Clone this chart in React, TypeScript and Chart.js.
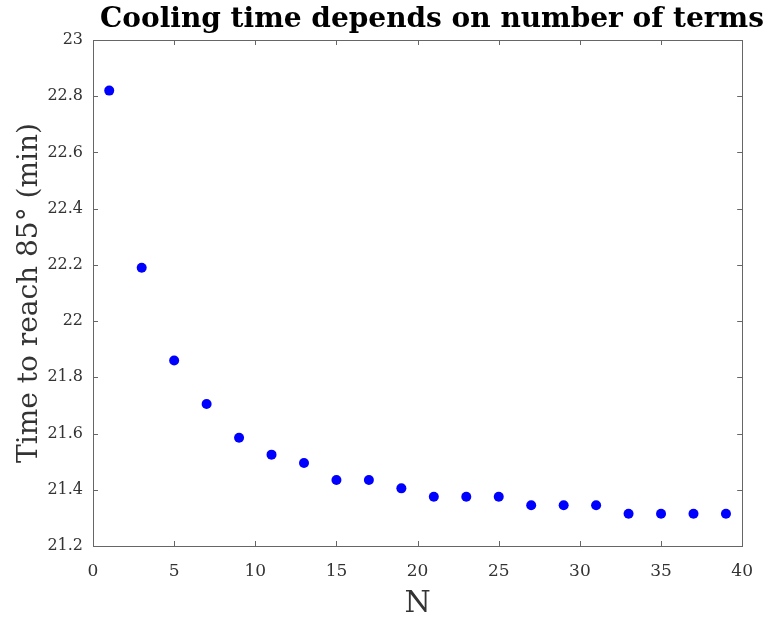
import React, { useEffect, useRef } from "react";
import { Chart, registerables } from "chart.js";

Chart.register(...registerables);

const nTerms = [1, 3, 5, 7, 9, 11, 13, 15, 17, 19, 21, 23, 25, 27, 29, 31, 33, 35, 37, 39];
const coolTime = [22.82, 22.19, 21.86, 21.705, 21.585, 21.525, 21.495, 21.435, 21.435, 21.405, 21.375, 21.375, 21.375, 21.345, 21.345, 21.345, 21.315, 21.315, 21.315, 21.315];
const chartTitle = "Cooling time depends on number of terms";
const xTitle = "N";
const yTitle = "Time to reach 85\u00B0 (min)";

const FONT = "'DejaVu Serif', serif";

const boxPlugin = {
  id: "boxTicks",
  afterDraw(chart: any) {
    const { ctx, chartArea: a, scales } = chart;
    ctx.save();
    ctx.strokeStyle = "#666";
    ctx.lineWidth = 1;
    ctx.strokeRect(Math.round(a.left) + 0.5, Math.round(a.top) + 0.5, Math.round(a.right - a.left), Math.round(a.bottom - a.top));
    const L = 5;
    ctx.beginPath();
    scales.x.ticks.forEach((t: any) => {
      const px = Math.round(scales.x.getPixelForValue(t.value)) + 0.5;
      ctx.moveTo(px, a.bottom);
      ctx.lineTo(px, a.bottom - L);
      ctx.moveTo(px, a.top);
      ctx.lineTo(px, a.top + L);
    });
    scales.y.ticks.forEach((t: any) => {
      const py = Math.round(scales.y.getPixelForValue(t.value)) + 0.5;
      ctx.moveTo(a.left, py);
      ctx.lineTo(a.left + L, py);
      ctx.moveTo(a.right, py);
      ctx.lineTo(a.right - L, py);
    });
    ctx.stroke();
    ctx.fillStyle = "#000";
    ctx.font = "bold 28px " + FONT;
    ctx.textAlign = "center";
    ctx.textBaseline = "alphabetic";
    ctx.fillText(chartTitle, 432, 27);
    ctx.restore();
  },
};

const fmt = (v: any) => String(Number(Number(v).toFixed(1)));

export default function App() {
  const ref = useRef<HTMLCanvasElement>(null);
  useEffect(() => {
    if (!ref.current) return;
    const chart = new Chart(ref.current, {
      type: "scatter",
      data: {
        datasets: [
          {
            data: nTerms.map((n, i) => ({ x: n, y: coolTime[i] })),
            backgroundColor: "#0000ff",
            borderColor: "#0000ff",
            pointRadius: 5,
            pointHoverRadius: 5,
            borderWidth: 0,
          },
        ],
      },
      options: {
        animation: false,
        responsive: false,
        layout: { padding: { top: 40, right: 23, left: 0, bottom: 0 } },
        plugins: { legend: { display: false }, tooltip: { enabled: false }, title: { display: false } },
        scales: {
          x: {
            type: "linear",
            min: 0,
            max: 40,
            afterFit: (s: any) => { s.height = 76; },
            grid: { display: false, drawTicks: false },
            border: { display: false },
            ticks: { stepSize: 5, padding: 15, color: "#333", font: { family: FONT, size: 17 }, callback: fmt },
            title: { display: true, text: xTitle, color: "#333", font: { family: FONT, size: 30, lineHeight: 1 }, padding: { top: 0, bottom: 3 } },
          },
          y: {
            type: "linear",
            min: 21.2,
            max: 23,
            afterFit: (s: any) => { s.width = 93; },
            grid: { display: false, drawTicks: false },
            border: { display: false },
            ticks: { stepSize: 0.2, padding: 10, color: "#333", font: { family: FONT, size: 16 }, callback: fmt },
            title: { display: true, text: yTitle, color: "#333", font: { family: FONT, size: 28, lineHeight: 1 }, padding: { top: 16, bottom: 0 } },
          },
        },
      },
      plugins: [boxPlugin],
    });
    return () => chart.destroy();
  }, []);
  return (
    <div style={{ position: "fixed", left: 0, top: 0, width: 768, height: 622, background: "#fff" }}>
      <canvas ref={ref} width={768} height={622} style={{ width: 768, height: 622 }} />
    </div>
  );
}
